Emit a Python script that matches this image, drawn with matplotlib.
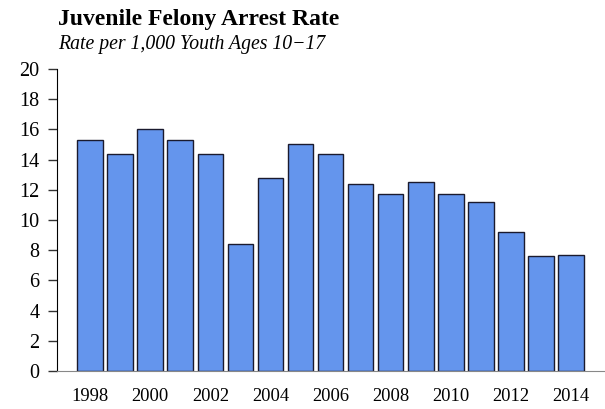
import matplotlib
matplotlib.use("Agg")
import matplotlib.pyplot as plt

years = [1998, 1999, 2000, 2001, 2002, 2003, 2004, 2005, 2006,
         2007, 2008, 2009, 2010, 2011, 2012, 2013, 2014]
rates = [15.3, 14.4, 16.0, 15.3, 14.4, 8.4, 12.8, 15.0, 14.4,
         12.4, 11.7, 12.5, 11.7, 11.2, 9.2, 7.6, 7.7]
year_labels = [str(y) for y in years[::2]]
y_ticks = list(range(0, 21, 2))

plt.rcParams['font.family'] = ['Liberation Serif', 'DejaVu Serif']

fig = plt.figure(figsize=(6.05, 4.09), dpi=100)
ax = fig.add_axes([57 / 605, 1 - 371 / 409, 1 - 57 / 605, (371 - 69) / 409])

ax.bar(years, rates, width=0.85, color='#6495ED', edgecolor='#1a1a2e', linewidth=1.0)

ax.set_xlim(1996.9, 2015.13)
ax.set_ylim(0, 20)
ax.set_yticks(y_ticks)
ax.set_xticks(years[::2])
ax.set_xticklabels(year_labels)

ax.spines['top'].set_visible(False)
ax.spines['right'].set_visible(False)
ax.spines['bottom'].set_color('#888888')
ax.spines['left'].set_color('black')
ax.tick_params(axis='y', direction='out', length=6.5, width=1, color='#333333',
               labelsize=14.5, pad=6)
ax.tick_params(axis='x', length=0, labelsize=13.3, pad=12)

fig.text(58 / 605, 1 - 20 / 409, 'Juvenile Felony Arrest Rate', fontsize=17,
         fontweight='bold', va='center', ha='left')
fig.text(58 / 605, 1 - 44 / 409, 'Rate per 1,000 Youth Ages 10\u221217', fontsize=14.2,
         fontstyle='italic', va='center', ha='left')

fig.savefig('out.png', dpi=100)
